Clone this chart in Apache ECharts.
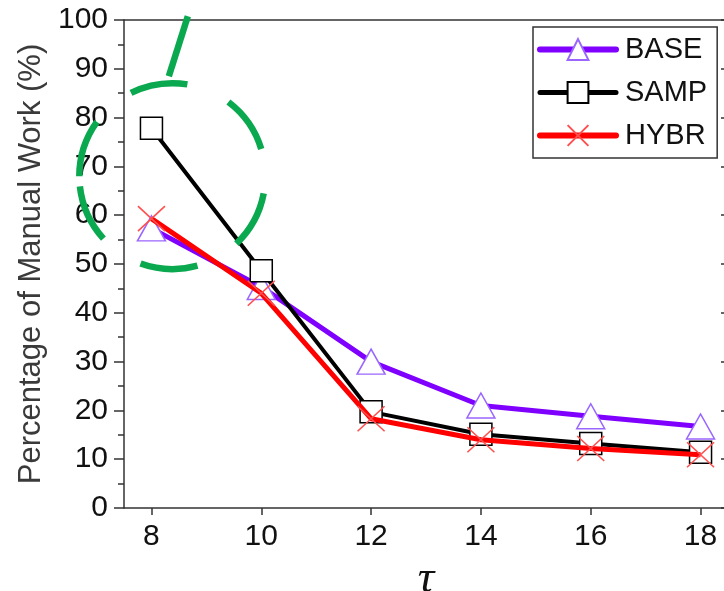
<!DOCTYPE html>
<html>
<head>
<meta charset="utf-8">
<script src="https://cdn.jsdelivr.net/npm/echarts@6/dist/echarts.min.js"></script>
<style>html,body{margin:0;padding:0;background:#fff;}#c{width:724px;height:591px;}</style>
</head>
<body>
<div id="c"></div>
<script>
const xValues = [8, 10, 12, 14, 16, 18];
const xTicks = [8, 10, 12, 14, 16, 18];
const baseVals = [57.3, 45.3, 30.0, 21.0, 18.8, 16.7];
const sampVals = [77.8, 48.6, 19.7, 15.1, 13.2, 11.4];
const hybrVals = [59.3, 44.0, 18.3, 14.0, 12.2, 10.9];
const seriesNames = ['BASE', 'SAMP', 'HYBR'];
const yName = 'Percentage of Manual Work (%)';
const xName = 'τ';

function pairs(vals) { return xValues.map((x, i) => [x, vals[i]]); }

const chart = echarts.init(document.getElementById('c'), null, {renderer: 'canvas'});
const axisColor = '#333';
const font = 'Liberation Sans';
const lineColors = ['#7f00ff', '#000000', '#ff0000'];
const lineWidths = [5, 4, 5];

const option = {
  animation: false,
  backgroundColor: '#fff',
  grid: {left: 124, top: 20, width: 604, height: 488, outerBoundsMode: 'none', containLabel: false},
  legend: {
    orient: 'vertical', left: 533, top: 27,
    padding: [8, 10, 8, 4],
    itemWidth: 76, itemHeight: 26, itemGap: 14,
    borderColor: '#333', borderWidth: 1.5, backgroundColor: '#fff',
    textStyle: {fontSize: 29, color: '#111', fontFamily: font, padding: [0, 0, 0, 4]},
    data: seriesNames.map((n, i) => ({name: n, lineStyle: {width: lineWidths[i] + 1, color: lineColors[i], cap: 'round'}}))
  },
  xAxis: [{
    type: 'value', min: 7.5, max: 18.5, position: 'bottom',
    name: xName, nameLocation: 'middle', nameGap: 29,
    nameTextStyle: {fontSize: 46, fontStyle: 'italic', fontFamily: 'Liberation Serif', color: '#111'},
    axisLine: {show: true, lineStyle: {color: axisColor, width: 1.5}},
    axisTick: {show: true, length: 7, customValues: xTicks, lineStyle: {color: axisColor, width: 1.5}},
    axisLabel: {customValues: xTicks, fontSize: 30, color: '#111', fontFamily: font, margin: 14},
    splitLine: {show: false}
  }, {
    type: 'value', min: 7.5, max: 18.5, position: 'top',
    axisLine: {show: true, onZero: false, lineStyle: {color: axisColor, width: 1.5}},
    axisTick: {show: false}, axisLabel: {show: false}, splitLine: {show: false}
  }],
  yAxis: [{
    type: 'value', min: 0, max: 100, interval: 10, position: 'left',
    name: yName, nameLocation: 'middle', nameGap: 76, nameRotate: 90,
    nameTextStyle: {fontSize: 31, color: '#3a3a3a', fontFamily: font},
    axisLine: {show: true, lineStyle: {color: axisColor, width: 1.5}},
    axisTick: {show: true, length: 10, lineStyle: {color: axisColor, width: 1.5}},
    minorTick: {show: true, splitNumber: 2, length: 6, lineStyle: {color: axisColor, width: 1.5}},
    axisLabel: {fontSize: 30, color: '#111', fontFamily: font, margin: 16},
    splitLine: {show: false}
  }, {
    type: 'value', min: 0, max: 100, interval: 10, position: 'right',
    axisLine: {show: true, lineStyle: {color: axisColor, width: 1.5}},
    axisTick: {show: true, inside: true, length: 7, lineStyle: {color: axisColor, width: 1.5}},
    minorTick: {show: true, splitNumber: 2, length: 4, lineStyle: {color: axisColor, width: 1.5}},
    axisLabel: {show: false}, splitLine: {show: false}
  }],
  series: [{
    name: seriesNames[0], type: 'line', data: pairs(baseVals),
    symbol: 'triangle', symbolSize: [28, 25],
    lineStyle: {color: lineColors[0], width: lineWidths[0]},
    itemStyle: {color: '#fff', borderColor: '#9a66ff', borderWidth: 1.5},
    z: 2
  }, {
    name: seriesNames[1], type: 'line', data: pairs(sampVals),
    symbol: 'rect', symbolSize: 22,
    lineStyle: {color: lineColors[1], width: lineWidths[1]},
    itemStyle: {color: '#fff', borderColor: '#000', borderWidth: 1.5},
    z: 3
  }, {
    name: seriesNames[2], type: 'line', data: pairs(hybrVals),
    symbol: 'path://M0,0L20,20M20,0L0,20', symbolSize: [27, 25],
    lineStyle: {color: lineColors[2], width: lineWidths[2]},
    itemStyle: {color: 'rgba(0,0,0,0)', borderColor: '#ff5050', borderWidth: 1.5},
    z: 4
  }]
};
chart.setOption(option);

// Green dashed annotation circle around the tau=8 region
const c = chart.convertToPixel({gridIndex: 0}, [8.38, 68]);
const green = '#0aa84f';
chart.setOption({
  graphic: [{
    type: 'arc', z: 100,
    shape: {cx: c[0], cy: c[1], r: 93, startAngle: Math.PI, endAngle: Math.PI * 3, clockwise: true},
    style: {stroke: green, lineWidth: 6.5, fill: null, lineDash: [58, 45]}
  }, {
    type: 'line', z: 100,
    shape: {x1: c[0] + 15.5, y1: c[1] - 160, x2: c[0] - 3.5, y2: c[1] - 100},
    style: {stroke: green, lineWidth: 6.5}
  }]
});
</script>
</body>
</html>
